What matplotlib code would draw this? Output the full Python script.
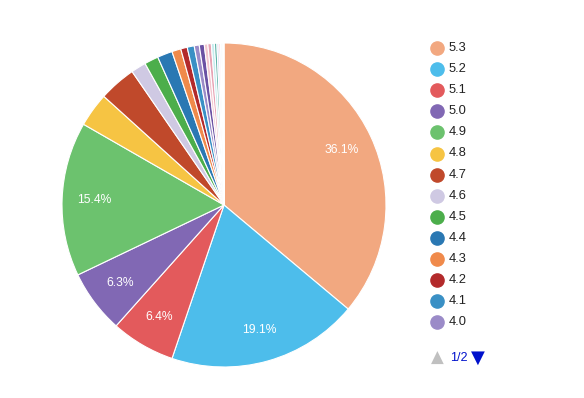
import matplotlib
matplotlib.use("Agg")
import matplotlib.pyplot as plt
from matplotlib.lines import Line2D

plt.rcParams["font.family"] = ["Liberation Sans", "DejaVu Sans"]

# slice labels (legend page 1 shows the first 14)
labels = ["5.3", "5.2", "5.1", "5.0", "4.9", "4.8", "4.7", "4.6", "4.5", "4.4",
          "4.3", "4.2", "4.1", "4.0", "3.9", "3.8", "3.7", "3.6", "3.5", "3.4",
          "3.3", "3.2", "3.1", "3.0", "2.9"]
shares = [36.1, 19.1, 6.4, 6.3, 15.4, 3.4, 3.7, 1.5, 1.4, 1.5,
          0.9, 0.65, 0.7, 0.5, 0.5, 0.35, 0.35, 0.3, 0.25, 0.2,
          0.15, 0.12, 0.1, 0.08, 0.05]
colors = ["#f2a880", "#4dbdeb", "#e35a5c", "#8168b4", "#6cc26e", "#f6c443",
          "#c0492b", "#cfc9e3", "#4cae4b", "#2a78b3", "#f08a4b", "#b32a2b",
          "#3a90c5", "#9b8bc8", "#6a51a3", "#f2c6cf", "#e7a3b4", "#c6ecef",
          "#5fb3a8", "#d9d9f0", "#fbb4c4", "#a6dbe8", "#9ecae1", "#c7e9c0",
          "#fdd0a2"]
legend_count = 14

W, H = 584, 398
fig = plt.figure(figsize=(W / 100, H / 100), dpi=100)
fig.patch.set_facecolor("white")

# pie axes: centre (224,205), radius 162 px
cx, cy, r = 224, 205, 162
ax = fig.add_axes([(cx - r) / W, (H - cy - r) / H, 2 * r / W, 2 * r / H])


def pct_label(p):
    return f"{p:.1f}%" if p >= 5 else ""


wedges, texts, autotexts = ax.pie(
    shares, colors=colors, startangle=90, counterclock=False,
    autopct=pct_label, pctdistance=0.8,
    wedgeprops=dict(edgecolor="white", linewidth=0.8),
    textprops=dict(color="white", fontsize=8.7))
ax.set_xlim(-1, 1)
ax.set_ylim(-1, 1)
ax.set_aspect("equal")
ax.axis("off")

# legend (page 1 of 2)
lx, ly0, step = 437, 48, 21.1
for i in range(legend_count):
    y = ly0 + i * step
    fig.add_artist(Line2D([lx / W], [1 - y / H], marker="o", markersize=9.5,
                          color=colors[i], linestyle="none",
                          transform=fig.transFigure))
    fig.text((lx + 12) / W, 1 - y / H, labels[i], fontsize=9.3,
             color="#222222", va="center", ha="left")

# pagination
py = 358
fig.text(437 / W, 1 - py / H, "\u25b2", fontsize=12, color="#c0c0c0",
         ha="center", va="center", family="DejaVu Sans")
fig.text(450 / W, 1 - py / H, "1/2", fontsize=9, color="#0011cc",
         ha="left", va="center")
fig.text(478 / W, 1 - py / H, "\u25bc", fontsize=13, color="#0011cc",
         ha="center", va="center", family="DejaVu Sans")

fig.savefig("out.png", dpi=100)
